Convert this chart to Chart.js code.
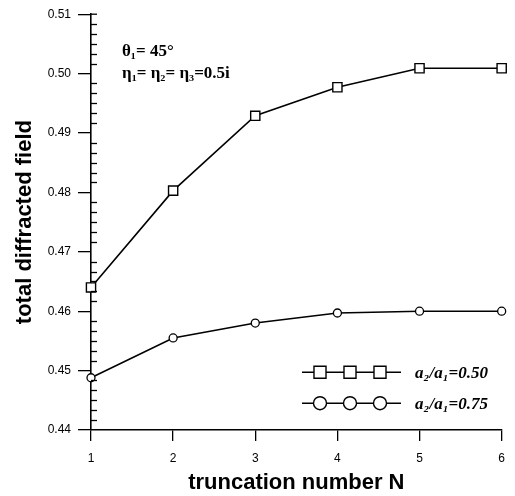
<!DOCTYPE html>
<html>
<head>
<meta charset="utf-8">
<script src="https://cdn.jsdelivr.net/npm/chart.js@4"></script>
<style>
  html, body { margin: 0; padding: 0; background: #fff; }
  #wrap { width: 515px; height: 496px; }
</style>
</head>
<body>
<div id="wrap"><canvas id="chart" width="515" height="496"></canvas></div>
<script>
// truncation number N
const truncN = [1, 2, 3, 4, 5, 6];
// total diffracted field, a2/a1 = 0.50 (squares)
const campo050 = [0.4640, 0.4803, 0.4929, 0.4977, 0.5009, 0.5009];
// total diffracted field, a2/a1 = 0.75 (circles)
const campo075 = [0.4488, 0.4555, 0.4580, 0.4597, 0.4600, 0.4600];
const etiquetas = ["a\u2082/a\u2081=0.50", "a\u2082/a\u2081=0.75"];
const yMin = 0.44, yMax = 0.51, yPaso = 0.01;
const anotaciones = ["\u03b8\u2081= 45\u00b0", "\u03b7\u2081= \u03b7\u2082= \u03b7\u2083=0.5i"];

const negro = "#000";

// ticks menores hacia dentro del eje y + leyenda + anotaciones
const extras = {
  id: "extras",
  afterDraw(chart) {
    const { ctx, chartArea: ca, scales } = chart;
    const y = scales.y;
    ctx.save();
    ctx.strokeStyle = negro;
    ctx.lineWidth = 1.3;
    const sub = 6;
    for (let v = yMin; v < yMax - 1e-9; v += yPaso) {
      for (let k = 1; k < sub; k++) {
        const py = Math.round(y.getPixelForValue(v + k * yPaso / sub)) + 0.5;
        ctx.beginPath();
        ctx.moveTo(ca.left, py);
        ctx.lineTo(ca.left + 6, py);
        ctx.stroke();
      }
    }
    // marca superior del eje
    const top = y.getPixelForValue(yMax);
    ctx.beginPath();
    ctx.moveTo(ca.left, top);
    ctx.lineTo(ca.left + 6, top);
    ctx.stroke();

    // leyenda
    const filas = [ca.top + 358, ca.top + 389];
    chart.data.datasets.forEach((ds, i) => {
      const fy = filas[i];
      ctx.strokeStyle = negro;
      ctx.lineWidth = 1.5;
      ctx.beginPath();
      ctx.moveTo(ca.left + 211, fy);
      ctx.lineTo(ca.left + 310, fy);
      ctx.stroke();
      [229, 259, 289].forEach(dx => {
        ctx.fillStyle = "#fff";
        ctx.strokeStyle = negro;
        ctx.lineWidth = 1.4;
        Chart.helpers.drawPoint(ctx, {
          pointStyle: ds.pointStyle,
          radius: ds.pointStyle === "rect" ? 8.5 : 6.5,
          borderWidth: 1.4
        }, ca.left + dx, fy);
      });
      ctx.fillStyle = negro;
      ctx.font = "italic bold 17px 'Liberation Serif', serif";
      ctx.textBaseline = "middle";
      ctx.textAlign = "left";
      ctx.fillText(ds.label, ca.left + 324, fy + 1);
    });

    // anotaciones
    ctx.fillStyle = negro;
    ctx.font = "bold 17px 'Liberation Serif', serif";
    ctx.textBaseline = "middle";
    ctx.fillText(anotaciones[0], ca.left + 31, ca.top + 37);
    ctx.fillText(anotaciones[1], ca.left + 31, ca.top + 59);
    ctx.restore();
  }
};

new Chart(document.getElementById("chart"), {
  type: "line",
  data: {
    datasets: [
      {
        label: etiquetas[0],
        data: truncN.map((n, i) => ({ x: n, y: campo050[i] })),
        borderColor: negro,
        borderWidth: 1.6,
        pointStyle: "rect",
        pointRadius: 6.5,
        pointBackgroundColor: "#fff",
        pointBorderColor: negro,
        pointBorderWidth: 1.4,
        tension: 0
      },
      {
        label: etiquetas[1],
        data: truncN.map((n, i) => ({ x: n, y: campo075[i] })),
        borderColor: negro,
        borderWidth: 1.6,
        pointStyle: "circle",
        pointRadius: 4,
        pointBackgroundColor: "#fff",
        pointBorderColor: negro,
        pointBorderWidth: 1.3,
        tension: 0
      }
    ]
  },
  options: {
    responsive: false,
    animation: false,
    clip: false,
    layout: { padding: { top: 13, right: 5, left: 0, bottom: 0 } },
    plugins: { legend: { display: false }, tooltip: { enabled: false } },
    scales: {
      x: {
        type: "linear",
        min: 1,
        max: 6,
        afterFit: s => { s.height = 66; },
        border: { color: negro, width: 1.6 },
        grid: { drawOnChartArea: false, color: negro, tickLength: 11, lineWidth: 1.3 },
        ticks: {
          stepSize: 1,
          color: negro,
          padding: 10,
          font: { family: "'Liberation Sans', Arial, sans-serif", size: 12 }
        },
        title: {
          display: true,
          text: "truncation number N",
          color: negro,
          padding: { top: 0, bottom: 0 },
          font: { family: "'Liberation Sans', Arial, sans-serif", size: 22, weight: "bold" }
        }
      },
      y: {
        min: yMin,
        max: yMax,
        afterFit: s => { s.width = 91; },
        border: { color: negro, width: 1.6 },
        grid: { drawOnChartArea: false, color: negro, tickLength: 13, lineWidth: 1.3 },
        ticks: {
          stepSize: yPaso,
          color: negro,
          padding: 7,
          callback: v => v.toFixed(2),
          font: { family: "'Liberation Sans', Arial, sans-serif", size: 12 }
        },
        title: {
          display: true,
          text: "total diffracted field",
          color: negro,
          padding: { top: 12, bottom: 0 },
          font: { family: "'Liberation Sans', Arial, sans-serif", size: 22, weight: "bold" }
        }
      }
    }
  },
  plugins: [extras]
});
</script>
</body>
</html>
